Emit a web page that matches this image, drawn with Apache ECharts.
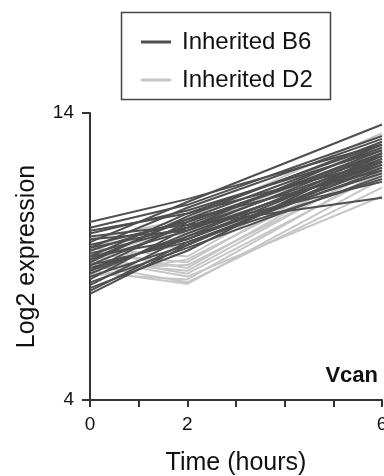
<!DOCTYPE html>
<html>
<head>
<meta charset="utf-8">
<script src="https://cdn.jsdelivr.net/npm/echarts@6/dist/echarts.min.js"></script>
<style>html,body{margin:0;padding:0;background:#fff;}#c{width:384px;height:476px;}</style>
</head>
<body>
<div id="c"></div>
<script>
// Time points (hours)
const timePoints = [0, 2, 6];
const xTickLabels = ['0', '2', '6'];
const yTickLabels = ['4', '14'];
const geneName = 'Vcan';
const legendB6 = 'Inherited B6';
const legendD2 = 'Inherited D2';

// Log2 expression per line at 0, 2, 6 hours
const inheritedB6 = [
  [9.5, 10.9, 13.6],
  [10.2, 11.0, 12.9],
  [10.0, 10.8, 13.2],
  [9.3, 10.7, 13.1],
  [9.0, 10.5, 12.9],
  [9.8, 10.6, 12.7],
  [8.8, 10.4, 13.0],
  [9.2, 10.3, 12.8],
  [8.5, 10.2, 12.6],
  [9.4, 10.2, 12.5],
  [8.7, 10.1, 12.7],
  [8.2, 10.0, 12.4],
  [9.1, 10.0, 12.9],
  [8.9, 9.9, 12.6],
  [8.4, 9.8, 12.3],
  [9.6, 9.9, 12.2],
  [8.0, 9.7, 12.5],
  [8.6, 9.6, 12.1],
  [9.0, 9.6, 12.4],
  [7.8, 9.5, 12.0],
  [8.3, 9.4, 12.2],
  [9.7, 10.1, 11.05],
  [8.1, 9.3, 11.8],
  [7.7, 9.4, 12.3],
  [8.9, 10.3, 12.0],
  [9.3, 10.0, 11.6],
  [8.5, 9.7, 11.9],
  [9.9, 10.5, 12.3],
  [8.7, 9.5, 11.7],
  [7.9, 9.2, 12.6]
];
const inheritedD2 = [
  [8.9, 8.3, 11.1],
  [8.7, 8.1, 11.4],
  [8.5, 8.05, 11.7],
  [9.0, 8.4, 11.9],
  [8.4, 8.2, 12.0],
  [8.8, 8.5, 12.2],
  [9.2, 8.6, 12.4],
  [8.6, 8.7, 12.1],
  [9.1, 8.8, 12.6],
  [8.3, 8.9, 12.3],
  [9.3, 9.0, 12.8],
  [8.9, 9.4, 12.5],
  [9.4, 9.8, 13.0],
  [9.0, 10.0, 12.7],
  [9.6, 10.3, 13.3]
];

const darkColor = '#4f4f4f';
const lightColor = '#c6c6c6';
const FONT = '"Liberation Sans", Arial, sans-serif';

function mkSeries(rows, name, color) {
  return rows.map(r => ({
    type: 'line',
    name: name,
    data: timePoints.map((t, i) => [t, r[i]]),
    symbol: 'none',
    silent: true,
    lineStyle: { color: color, width: 2 },
    itemStyle: { color: color }
  }));
}

const series = [].concat(
  mkSeries(inheritedD2, legendD2, lightColor),
  mkSeries(inheritedB6, legendB6, darkColor)
);

const chart = echarts.init(document.getElementById('c'), null, { renderer: 'canvas' });
chart.setOption({
  animation: false,
  backgroundColor: '#fff',
  grid: { left: 90, right: 2, top: 113, bottom: 76, containLabel: false, outerBoundsMode: 'none' },
  legend: {
    data: [legendB6, legendD2],
    orient: 'vertical',
    left: 136,
    top: 25,
    itemWidth: 30,
    itemHeight: 3,
    itemGap: 14,
    icon: 'rect',
    selectedMode: false,
    textStyle: { fontFamily: FONT, fontSize: 24, color: '#111', padding: [0, 0, 0, 6], lineHeight: 22 }
  },
  graphic: [
    { type: 'rect', left: 119, top: 10, shape: { width: 209, height: 87 },
      style: { fill: 'none', stroke: '#444', lineWidth: 1.5 }, silent: true },
    { type: 'text', right: 6, top: 365,
      style: { text: geneName, font: 'bold 22px ' + FONT, fill: '#111' } }
  ],
  xAxis: {
    type: 'value', min: 0, max: 6, interval: 1,
    name: 'Time (hours)', nameLocation: 'middle', nameGap: 51,
    nameTextStyle: { fontFamily: FONT, fontSize: 25, color: '#111' },
    splitLine: { show: false },
    axisLine: { lineStyle: { color: '#333', width: 2 } },
    axisTick: { length: 7, lineStyle: { color: '#333', width: 2 } },
    axisLabel: {
      margin: 15, fontFamily: FONT, fontSize: 19, color: '#111',
      formatter: v => (xTickLabels.indexOf(String(v)) >= 0 ? String(v) : '')
    }
  },
  yAxis: {
    type: 'value', min: 4, max: 14, interval: 10,
    name: 'Log2 expression', nameLocation: 'middle', nameGap: 50, nameRotate: 90,
    nameTextStyle: { fontFamily: FONT, fontSize: 25, color: '#111' },
    splitLine: { show: false },
    axisLine: { show: true, lineStyle: { color: '#333', width: 2 } },
    axisTick: { show: true, length: 8, lineStyle: { color: '#333', width: 2 } },
    axisLabel: {
      margin: 16, fontFamily: FONT, fontSize: 19, color: '#111',
      formatter: v => (yTickLabels.indexOf(String(v)) >= 0 ? String(v) : '')
    }
  },
  series: series
});
</script>
</body>
</html>
